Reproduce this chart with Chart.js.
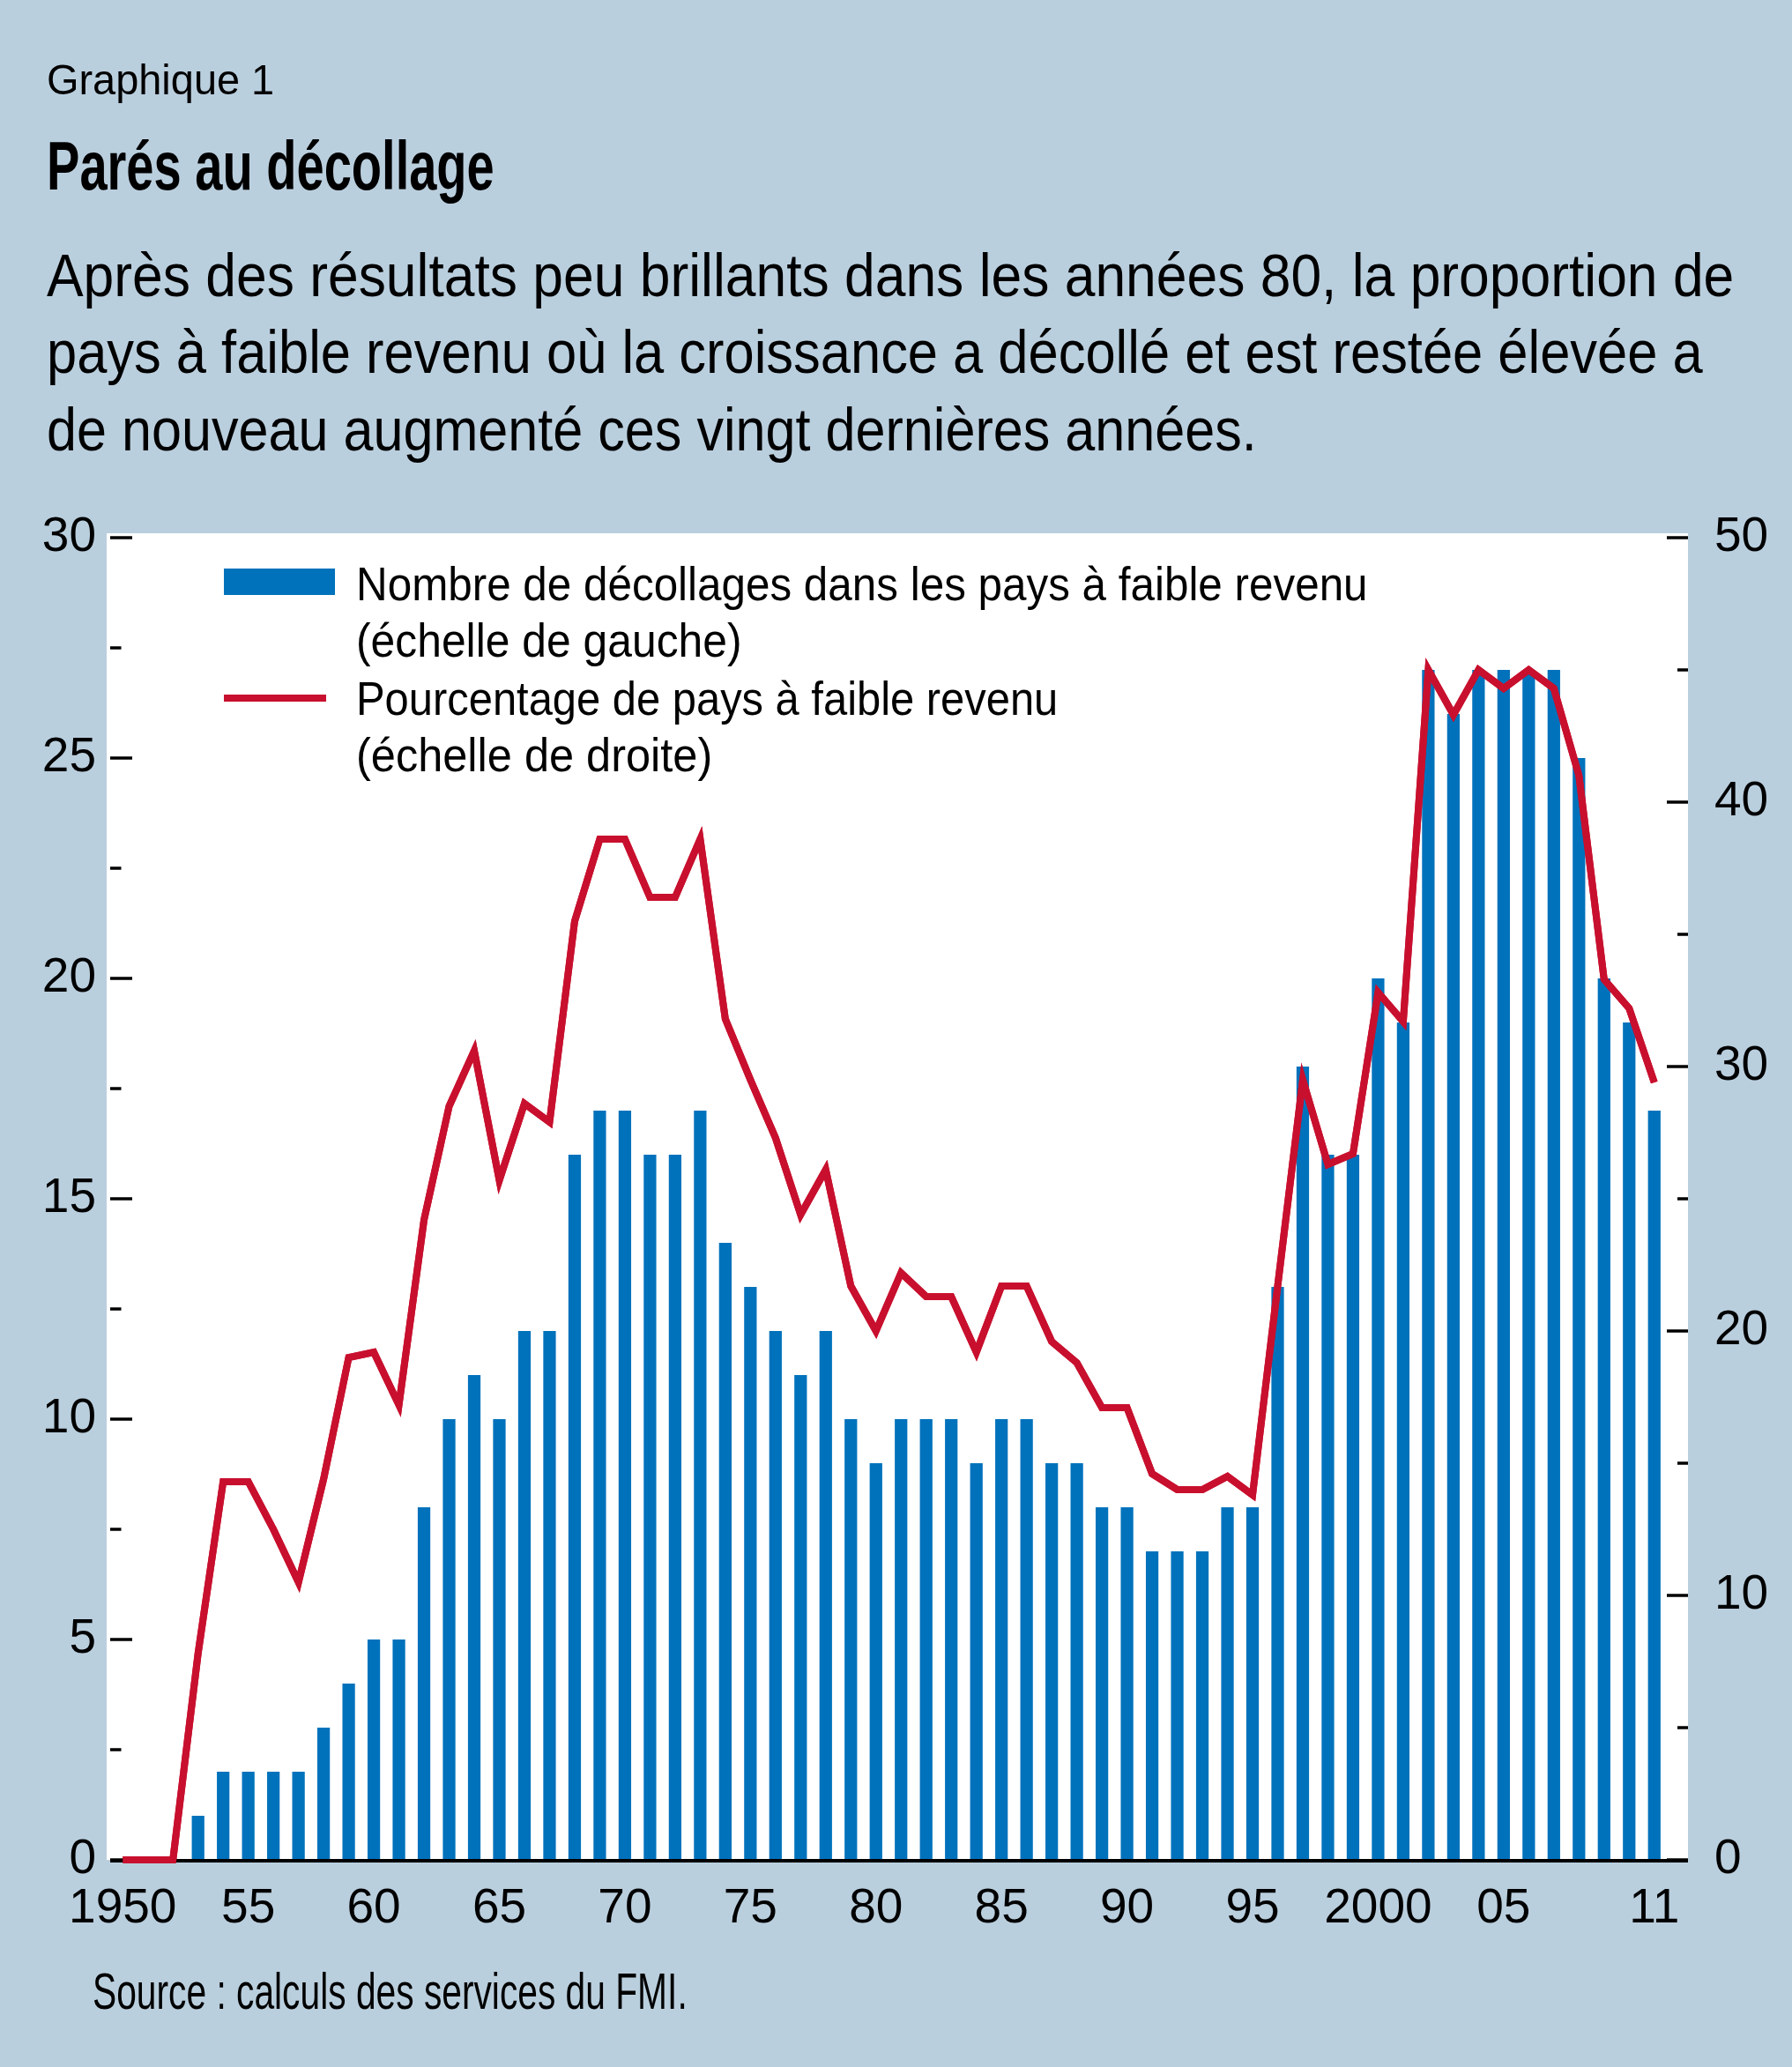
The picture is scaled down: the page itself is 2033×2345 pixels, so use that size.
<!DOCTYPE html>
<html>
<head>
<meta charset="utf-8">
<script src="https://cdn.jsdelivr.net/npm/chart.js@4.4.1/dist/chart.umd.min.js"></script>
<style>
html,body{margin:0;padding:0;background:#BACFDE;width:2033px;height:2345px;overflow:hidden;}
#wrap{position:relative;width:2033px;height:2345px;}
#c{position:absolute;left:0;top:0;}
.t{position:absolute;left:0;top:0;white-space:nowrap;color:#000;line-height:1;transform-origin:0 0;
   font-family:'Liberation Sans Narrow','Arial Narrow','Liberation Sans',Arial,sans-serif;}
.sw{position:absolute;}
</style>
</head>
<body>
<div id="wrap">
<canvas id="c" width="2033" height="2345"></canvas>

<div class="t" data-x="53" data-b="107" data-w="258" style="font-size:48px">Graphique 1</div>
<div class="t" data-x="53" data-b="215" data-w="508" style="font-size:78px;font-weight:bold">Parés au décollage</div>
<div class="t" data-x="53" data-b="336" data-w="1914" style="font-size:69px">Après des résultats peu brillants dans les années 80, la proportion de</div>
<div class="t" data-x="53" data-b="423" data-w="1879" style="font-size:69px">pays à faible revenu où la croissance a décollé et est restée élevée a</div>
<div class="t" data-x="53" data-b="511" data-w="1373" style="font-size:69px">de nouveau augmenté ces vingt dernières années.</div>

<div class="sw" style="left:254px;top:645px;width:126px;height:30px;background:#0072BC"></div>
<div class="sw" style="left:254px;top:788px;width:116px;height:8px;background:#C8102E"></div>
<div class="t" data-x="404" data-b="681" data-w="1148" style="font-size:53px">Nombre de décollages dans les pays à faible revenu</div>
<div class="t" data-x="404" data-b="745" data-w="438" style="font-size:53px">(échelle de gauche)</div>
<div class="t" data-x="404" data-b="811" data-w="796" style="font-size:53px">Pourcentage de pays à faible revenu</div>
<div class="t" data-x="404" data-b="875" data-w="404" style="font-size:53px">(échelle de droite)</div>

<div class="t" data-x="105" data-b="2279" data-w="675" style="font-size:58px">Source : calculs des services du FMI.</div>
</div>

<script>
// ---- Data ----
const years = [1950,1951,1952,1953,1954,1955,1956,1957,1958,1959,
               1960,1961,1962,1963,1964,1965,1966,1967,1968,1969,
               1970,1971,1972,1973,1974,1975,1976,1977,1978,1979,
               1980,1981,1982,1983,1984,1985,1986,1987,1988,1989,
               1990,1991,1992,1993,1994,1995,1996,1997,1998,1999,
               2000,2001,2002,2003,2004,2005,2006,2007,2008,2009,2010,2011];

// Nombre de décollages (left axis)
const takeoffs = [0,0,0,1,2,2,2,2,3,4,
                  5,5,8,10,11,10,12,12,16,17,
                  17,16,16,17,14,13,12,11,12,10,
                  9,10,10,10,9,10,10,9,9,8,
                  8,7,7,7,8,8,13,18,16,16,
                  20,19,27,26,27,27,27,27,25,20,19,17];

// Pourcentage de pays à faible revenu (right axis)
const shareLowIncome = [0,0,0,7.8,14.3,14.3,12.5,10.5,14.4,19.0,
                        19.2,17.2,24.2,28.5,30.6,25.7,28.6,27.9,35.5,38.6,
                        38.6,36.4,36.4,38.6,31.8,29.5,27.3,24.4,26.1,21.7,
                        20.0,22.2,21.3,21.3,19.2,21.7,21.7,19.6,18.8,17.1,
                        17.1,14.6,14.0,14.0,14.5,13.8,21.7,29.5,26.3,26.7,
                        32.8,31.7,45.0,43.3,45.0,44.3,45.0,44.3,41.0,33.3,32.2,29.4];

const xTickYears = [1950,1955,1960,1965,1970,1975,1980,1985,1990,1995,2000,2005,2011];
const xTickText  = ['1950','55','60','65','70','75','80','85','90','95','2000','05','11'];

const leftMajorTicks  = [0,5,10,15,20,25,30];
const leftMinorTicks  = [2.5,7.5,12.5,17.5,22.5,27.5];
const rightMajorTicks = [0,10,20,30,40,50];
const rightMinorTicks = [5,15,25,35,45];

const seriesNames = ['Pourcentage de pays à faible revenu (échelle de droite)',
                     'Nombre de décollages dans les pays à faible revenu (échelle de gauche)'];

// ---- Styles ----
const BLUE = '#0072BC', RED = '#C8102E';
const FONT_FAMILY = "'Liberation Sans Narrow','Arial Narrow','Liberation Sans',Arial,sans-serif";
const tickFont = {family: FONT_FAMILY, size: 55, lineHeight: 1.2};

const framePlugin = {
  id: 'frame',
  beforeDraw(chart) {
    const {ctx, chartArea: a} = chart;
    ctx.save();
    ctx.fillStyle = '#ffffff';
    ctx.fillRect(a.left - 4, a.top - 5, (a.right + 24) - (a.left - 4), a.bottom - (a.top - 5));
    ctx.restore();
  },
  afterDatasetsDraw(chart) {
    const {ctx, chartArea: a, scales} = chart;
    const rightEdge = a.right + 24;
    ctx.save();
    ctx.strokeStyle = '#000';
    ctx.lineCap = 'butt';
    ctx.lineWidth = 4;
    ctx.beginPath();
    ctx.moveTo(a.left, a.bottom + 1);
    ctx.lineTo(rightEdge, a.bottom + 1);
    ctx.stroke();
    ctx.lineWidth = 3.5;
    const seg = (x1, x2, y) => { ctx.beginPath(); ctx.moveTo(x1, y); ctx.lineTo(x2, y); ctx.stroke(); };
    leftMajorTicks.forEach(v => seg(a.left, a.left + 25, scales.y.getPixelForValue(v)));
    leftMinorTicks.forEach(v => seg(a.left, a.left + 12.5, scales.y.getPixelForValue(v)));
    rightMajorTicks.forEach(v => seg(rightEdge - 24, rightEdge, scales.y2.getPixelForValue(v)));
    rightMinorTicks.forEach(v => seg(rightEdge - 12, rightEdge, scales.y2.getPixelForValue(v)));
    ctx.restore();
    // line drawn again above the axis line
    chart.getDatasetMeta(0).controller.draw();
  }
};

new Chart(document.getElementById('c'), {
  data: {
    labels: years,
    datasets: [
      {type: 'line', label: seriesNames[0], data: shareLowIncome, yAxisID: 'y2',
       borderColor: RED, borderWidth: 8, pointRadius: 0, tension: 0,
       borderJoinStyle: 'miter', borderCapStyle: 'butt', fill: false, order: 0},
      {type: 'bar', label: seriesNames[1], data: takeoffs, yAxisID: 'y',
       backgroundColor: BLUE, borderWidth: 0, barPercentage: 0.5, categoryPercentage: 1.0, order: 1}
    ]
  },
  options: {
    responsive: false,
    devicePixelRatio: 1,
    animation: false,
    layout: {padding: {top: 610, left: 0, right: 0, bottom: 0}},
    plugins: {legend: {display: false}, tooltip: {enabled: false}, title: {display: false}},
    scales: {
      x: {
        type: 'category', offset: true,
        grid: {display: false, drawTicks: false},
        border: {display: false},
        ticks: {
          autoSkip: false, maxRotation: 0, minRotation: 0, padding: 23,
          color: '#000', font: tickFont,
          callback: (v, i) => { const k = xTickYears.indexOf(years[i]); return k >= 0 ? xTickText[k] : ''; }
        },
        afterFit(s) { s.height = 235; }
      },
      y: {
        position: 'left', min: 0, max: 30,
        grid: {display: false, drawTicks: false},
        border: {display: false},
        ticks: {stepSize: 5, padding: 16, color: '#000', font: tickFont},
        afterFit(s) { s.width = 125; }
      },
      y2: {
        position: 'right', min: 0, max: 50,
        grid: {display: false, drawTicks: false},
        border: {display: false},
        ticks: {stepSize: 10, padding: 54, color: '#000', font: tickFont},
        afterFit(s) { s.width = 142; }
      }
    }
  },
  plugins: [framePlugin]
});

// ---- Fit HTML text to the reference positions ----
function fitTexts() {
  document.querySelectorAll('.t').forEach(el => {
    el.style.transform = 'none';
    el.style.left = el.dataset.x + 'px';
    el.style.top = '0px';
    const m = document.createElement('span');
    m.style.cssText = 'display:inline-block;width:0;height:0;vertical-align:baseline;';
    el.appendChild(m);
    const base = m.offsetTop;
    el.removeChild(m);
    const w = el.offsetWidth;
    el.style.top = (parseFloat(el.dataset.b) - base) + 'px';
    if (w > 0) el.style.transform = 'scaleX(' + (parseFloat(el.dataset.w) / w) + ')';
  });
}
fitTexts();
if (document.fonts && document.fonts.ready) document.fonts.ready.then(fitTexts);
</script>
</body>
</html>
